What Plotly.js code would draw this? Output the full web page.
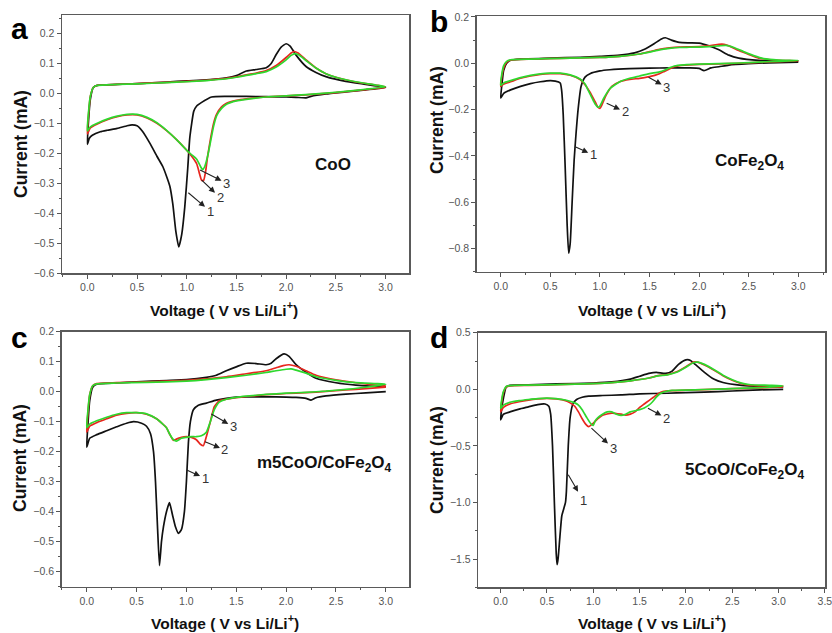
<!DOCTYPE html>
<html>
<head>
<meta charset="utf-8">
<script src="https://cdn.plot.ly/plotly-3.0.1.min.js"></script>
<style>html,body{margin:0;padding:0;background:#fff;}#chart{width:832px;height:633px;}</style>
</head>
<body>
<div id="chart"></div>
<script>
// ---------- Panel a : CoO ----------
const a1_V = [3.0,2.8,2.6,2.4,2.25,2.2,2.1,2.0,1.8,1.6,1.4,1.25,1.15,1.1,1.07,1.05,1.03,1.01,0.98,0.95,0.92,0.89,0.86,0.83,0.8,0.76,0.7,0.63,0.55,0.5,0.45,0.4,0.3,0.2,0.13,0.05,0.02,0.0,
  0.01,0.03,0.06,0.1,0.3,0.5,0.8,1.0,1.2,1.4,1.5,1.6,1.7,1.8,1.85,1.9,1.95,2.0,2.04,2.1,2.2,2.3,2.4,2.6,2.8,3.0];
const a1_I = [0.02,0.012,0.005,-0.002,-0.01,-0.015,-0.013,-0.012,-0.011,-0.01,-0.01,-0.012,-0.03,-0.042,-0.06,-0.1,-0.15,-0.25,-0.38,-0.47,-0.513,-0.46,-0.37,-0.31,-0.28,-0.245,-0.21,-0.167,-0.125,-0.108,-0.105,-0.108,-0.117,-0.123,-0.128,-0.14,-0.15,-0.17,
  -0.1,-0.02,0.02,0.027,0.03,0.033,0.038,0.042,0.045,0.052,0.06,0.075,0.08,0.086,0.1,0.13,0.155,0.166,0.158,0.128,0.09,0.07,0.056,0.04,0.03,0.02];
const a2_V = [3.0,2.8,2.6,2.4,2.2,2.0,1.8,1.6,1.5,1.4,1.35,1.3,1.27,1.24,1.21,1.19,1.17,1.15,1.13,1.1,1.05,1.0,0.9,0.8,0.7,0.6,0.5,0.4,0.3,0.2,0.1,0.03,0.0,
  0.01,0.03,0.06,0.1,0.3,0.5,0.8,1.0,1.2,1.4,1.5,1.6,1.7,1.8,1.9,2.0,2.05,2.08,2.12,2.2,2.3,2.4,2.5,2.7,2.9,3.0];
const a2_I = [0.02,0.013,0.006,0.0,-0.005,-0.008,-0.012,-0.018,-0.023,-0.033,-0.045,-0.07,-0.1,-0.15,-0.21,-0.26,-0.29,-0.29,-0.27,-0.235,-0.21,-0.19,-0.155,-0.125,-0.1,-0.082,-0.072,-0.072,-0.078,-0.088,-0.102,-0.115,-0.135,
  -0.08,-0.01,0.02,0.027,0.03,0.033,0.037,0.04,0.044,0.05,0.055,0.062,0.068,0.076,0.093,0.12,0.135,0.14,0.135,0.112,0.085,0.066,0.054,0.038,0.028,0.022];
const a3_V = [3.0,2.8,2.6,2.4,2.2,2.0,1.8,1.6,1.5,1.4,1.35,1.3,1.27,1.24,1.21,1.18,1.16,1.14,1.1,1.05,1.0,0.9,0.8,0.7,0.6,0.5,0.4,0.3,0.2,0.1,0.03,0.0,
  0.01,0.03,0.06,0.1,0.3,0.5,0.8,1.0,1.2,1.4,1.5,1.6,1.7,1.8,1.9,2.0,2.05,2.09,2.13,2.2,2.3,2.4,2.5,2.7,2.9,3.0];
const a3_I = [0.022,0.014,0.007,0.001,-0.004,-0.008,-0.012,-0.02,-0.025,-0.036,-0.05,-0.075,-0.11,-0.16,-0.21,-0.245,-0.255,-0.245,-0.22,-0.205,-0.19,-0.155,-0.124,-0.098,-0.08,-0.07,-0.07,-0.076,-0.086,-0.1,-0.112,-0.125,
  -0.07,-0.01,0.02,0.027,0.03,0.032,0.036,0.039,0.043,0.049,0.054,0.06,0.066,0.073,0.088,0.112,0.127,0.133,0.128,0.11,0.085,0.066,0.054,0.039,0.028,0.022];

// ---------- Panel b : CoFe2O4 ----------
const b1_V = [3.0,2.7,2.5,2.3,2.2,2.12,2.05,2.0,1.9,1.7,1.5,1.3,1.1,1.0,0.9,0.85,0.81,0.78,0.76,0.74,0.72,0.7,0.685,0.67,0.65,0.63,0.615,0.6,0.55,0.5,0.4,0.3,0.2,0.1,0.03,0.0,
  0.01,0.03,0.06,0.1,0.2,0.5,0.8,1.0,1.2,1.35,1.45,1.55,1.62,1.66,1.72,1.8,1.9,2.0,2.1,2.2,2.3,2.4,2.6,2.8,3.0];
const b1_I = [0.005,0.002,-0.002,-0.008,-0.015,-0.02,-0.032,-0.022,-0.02,-0.02,-0.021,-0.023,-0.028,-0.033,-0.045,-0.06,-0.1,-0.2,-0.3,-0.42,-0.6,-0.78,-0.82,-0.7,-0.45,-0.22,-0.12,-0.085,-0.077,-0.075,-0.08,-0.088,-0.1,-0.115,-0.13,-0.15,
  -0.1,-0.03,0.0,0.013,0.018,0.022,0.026,0.03,0.035,0.045,0.06,0.085,0.105,0.11,0.1,0.09,0.088,0.087,0.075,0.058,0.035,0.022,0.012,0.009,0.008];
const b2_V = [3.0,2.8,2.6,2.4,2.2,2.0,1.85,1.75,1.7,1.65,1.6,1.5,1.4,1.3,1.2,1.12,1.06,1.02,1.0,0.98,0.95,0.9,0.85,0.8,0.7,0.6,0.5,0.4,0.3,0.2,0.1,0.03,0.0,
  0.01,0.03,0.06,0.1,0.3,0.6,1.0,1.2,1.4,1.5,1.6,1.7,1.8,1.9,2.0,2.1,2.2,2.25,2.3,2.4,2.5,2.6,2.8,3.0];
const b2_I = [0.01,0.007,0.004,0.0,-0.003,-0.005,-0.008,-0.015,-0.025,-0.035,-0.045,-0.058,-0.065,-0.07,-0.08,-0.1,-0.14,-0.18,-0.195,-0.19,-0.165,-0.125,-0.093,-0.07,-0.052,-0.045,-0.045,-0.048,-0.055,-0.065,-0.08,-0.09,-0.1,
  -0.06,-0.02,0.005,0.013,0.018,0.021,0.025,0.03,0.04,0.05,0.06,0.066,0.07,0.071,0.072,0.075,0.082,0.082,0.075,0.055,0.038,0.022,0.013,0.01];
const b3_V = [3.0,2.8,2.6,2.4,2.2,2.0,1.85,1.75,1.7,1.65,1.6,1.5,1.4,1.3,1.2,1.1,1.04,1.0,0.98,0.95,0.92,0.88,0.85,0.8,0.7,0.6,0.5,0.4,0.3,0.2,0.1,0.03,0.0,
  0.01,0.03,0.06,0.1,0.3,0.6,1.0,1.2,1.4,1.5,1.6,1.7,1.8,1.9,2.0,2.1,2.2,2.27,2.35,2.45,2.55,2.65,2.8,3.0];
const b3_I = [0.012,0.008,0.005,0.001,-0.002,-0.004,-0.007,-0.012,-0.02,-0.03,-0.037,-0.045,-0.055,-0.065,-0.08,-0.11,-0.15,-0.185,-0.19,-0.175,-0.15,-0.115,-0.09,-0.068,-0.05,-0.043,-0.043,-0.046,-0.052,-0.062,-0.075,-0.085,-0.095,
  -0.05,-0.01,0.008,0.015,0.018,0.021,0.025,0.03,0.04,0.048,0.058,0.064,0.068,0.069,0.07,0.072,0.075,0.077,0.068,0.05,0.033,0.02,0.014,0.012];

// ---------- Panel c : m5CoO/CoFe2O4 ----------
const c1_V = [3.0,2.8,2.6,2.4,2.3,2.25,2.2,2.1,2.0,1.8,1.6,1.5,1.4,1.3,1.2,1.12,1.07,1.04,1.02,1.0,0.98,0.95,0.92,0.89,0.86,0.83,0.8,0.77,0.75,0.73,0.71,0.69,0.67,0.64,0.6,0.55,0.47,0.4,0.3,0.2,0.1,0.03,0.0,
  0.01,0.03,0.06,0.1,0.3,0.5,0.8,1.0,1.2,1.3,1.4,1.5,1.6,1.7,1.8,1.85,1.9,1.98,2.03,2.1,2.2,2.3,2.5,2.7,3.0];
const c1_I = [0.0,-0.004,-0.008,-0.014,-0.02,-0.028,-0.022,-0.019,-0.018,-0.017,-0.017,-0.018,-0.022,-0.028,-0.038,-0.045,-0.06,-0.1,-0.17,-0.3,-0.4,-0.46,-0.472,-0.45,-0.41,-0.37,-0.4,-0.45,-0.5,-0.58,-0.45,-0.3,-0.2,-0.14,-0.115,-0.105,-0.1,-0.105,-0.117,-0.13,-0.143,-0.155,-0.185,
  -0.12,-0.03,0.015,0.025,0.029,0.033,0.037,0.04,0.048,0.055,0.07,0.083,0.095,0.094,0.09,0.095,0.11,0.126,0.118,0.09,0.065,0.045,0.03,0.022,0.016];
const c2_V = [3.0,2.8,2.6,2.4,2.2,2.0,1.8,1.6,1.5,1.4,1.33,1.28,1.24,1.2,1.17,1.14,1.1,1.05,1.0,0.95,0.9,0.87,0.83,0.8,0.7,0.6,0.5,0.4,0.3,0.2,0.1,0.03,0.0,
  0.01,0.03,0.06,0.1,0.3,0.6,1.0,1.2,1.4,1.6,1.8,1.9,1.97,2.03,2.1,2.2,2.3,2.5,2.7,2.9,3.0];
const c2_I = [0.015,0.01,0.006,0.001,-0.003,-0.006,-0.01,-0.016,-0.02,-0.025,-0.03,-0.05,-0.1,-0.15,-0.18,-0.175,-0.16,-0.152,-0.15,-0.152,-0.158,-0.162,-0.14,-0.12,-0.09,-0.075,-0.07,-0.072,-0.078,-0.09,-0.103,-0.115,-0.135,
  -0.08,-0.01,0.02,0.027,0.03,0.033,0.038,0.043,0.05,0.06,0.07,0.08,0.087,0.09,0.085,0.07,0.055,0.04,0.03,0.022,0.02];
const c3_V = [3.0,2.8,2.6,2.4,2.2,2.0,1.8,1.6,1.5,1.4,1.33,1.28,1.24,1.2,1.15,1.1,1.05,1.0,0.95,0.9,0.87,0.83,0.8,0.7,0.6,0.5,0.4,0.3,0.2,0.1,0.03,0.0,
  0.01,0.03,0.06,0.1,0.3,0.6,1.0,1.2,1.4,1.6,1.8,1.9,2.0,2.05,2.1,2.2,2.3,2.5,2.7,2.9,3.0];
const c3_I = [0.025,0.015,0.008,0.002,-0.002,-0.005,-0.009,-0.015,-0.019,-0.025,-0.035,-0.06,-0.1,-0.135,-0.147,-0.15,-0.15,-0.152,-0.155,-0.165,-0.16,-0.14,-0.12,-0.09,-0.074,-0.07,-0.07,-0.075,-0.085,-0.097,-0.108,-0.12,
  -0.07,-0.01,0.02,0.026,0.029,0.031,0.035,0.04,0.047,0.055,0.064,0.07,0.075,0.076,0.072,0.062,0.05,0.038,0.03,0.027,0.025];

// ---------- Panel d : 5CoO/CoFe2O4 ----------
const d1_V = [3.05,2.8,2.5,2.2,2.0,1.8,1.5,1.3,1.1,0.95,0.88,0.82,0.78,0.75,0.73,0.71,0.7,0.68,0.66,0.64,0.62,0.61,0.6,0.58,0.56,0.54,0.52,0.48,0.4,0.3,0.2,0.1,0.03,0.0,
  0.01,0.03,0.06,0.1,0.3,0.6,1.0,1.2,1.4,1.5,1.6,1.68,1.78,1.85,1.92,2.0,2.05,2.1,2.2,2.3,2.4,2.6,2.8,3.05];
const d1_I = [0.0,-0.005,-0.015,-0.025,-0.03,-0.035,-0.04,-0.05,-0.055,-0.06,-0.07,-0.09,-0.13,-0.25,-0.5,-0.9,-1.0,-1.06,-1.12,-1.3,-1.5,-1.55,-1.45,-1.0,-0.5,-0.22,-0.15,-0.13,-0.135,-0.155,-0.175,-0.2,-0.22,-0.27,
  -0.18,-0.08,0.02,0.035,0.04,0.047,0.055,0.065,0.09,0.115,0.14,0.15,0.14,0.16,0.22,0.26,0.255,0.22,0.15,0.09,0.06,0.035,0.025,0.02];
const d2_V = [3.05,2.8,2.5,2.2,2.0,1.85,1.75,1.7,1.65,1.6,1.55,1.5,1.45,1.4,1.35,1.3,1.2,1.1,1.05,1.0,0.95,0.92,0.88,0.84,0.8,0.75,0.7,0.6,0.5,0.4,0.3,0.2,0.1,0.03,0.0,
  0.01,0.03,0.06,0.1,0.3,0.6,1.0,1.2,1.4,1.6,1.7,1.8,1.9,2.0,2.08,2.12,2.2,2.3,2.4,2.5,2.6,2.7,2.9,3.05];
const d2_I = [0.02,0.012,0.005,-0.003,-0.008,-0.012,-0.02,-0.04,-0.07,-0.1,-0.13,-0.16,-0.2,-0.22,-0.228,-0.22,-0.21,-0.23,-0.26,-0.3,-0.33,-0.31,-0.26,-0.2,-0.15,-0.12,-0.1,-0.085,-0.08,-0.085,-0.095,-0.11,-0.13,-0.16,-0.2,
  -0.12,-0.03,0.02,0.03,0.035,0.04,0.05,0.058,0.075,0.1,0.12,0.13,0.155,0.2,0.24,0.24,0.215,0.17,0.12,0.08,0.05,0.035,0.028,0.025];
const d3_V = [3.05,2.8,2.5,2.2,2.0,1.85,1.78,1.72,1.68,1.64,1.6,1.55,1.5,1.45,1.4,1.35,1.3,1.25,1.2,1.15,1.1,1.05,1.02,1.0,0.97,0.93,0.88,0.84,0.8,0.7,0.6,0.5,0.4,0.3,0.2,0.1,0.03,0.0,
  0.01,0.03,0.06,0.1,0.3,0.6,1.0,1.2,1.4,1.6,1.7,1.8,1.9,2.0,2.08,2.13,2.2,2.3,2.4,2.5,2.6,2.7,2.9,3.05];
const d3_I = [0.03,0.015,0.006,-0.002,-0.007,-0.01,-0.02,-0.04,-0.07,-0.11,-0.14,-0.165,-0.18,-0.19,-0.2,-0.22,-0.23,-0.22,-0.2,-0.2,-0.22,-0.25,-0.28,-0.32,-0.3,-0.25,-0.18,-0.14,-0.12,-0.095,-0.082,-0.078,-0.082,-0.09,-0.1,-0.115,-0.14,-0.17,
  -0.1,-0.02,0.025,0.033,0.037,0.042,0.05,0.058,0.075,0.1,0.118,0.128,0.15,0.195,0.235,0.24,0.22,0.175,0.125,0.085,0.055,0.04,0.035,0.03];

// ---------- Styling ----------
const cycleColors = ['#111111', '#e8261e', '#2ed82e'];
const FONT = 'Liberation Sans, Arial, Helvetica, sans-serif';

const panels = [
  {xa:'x',  ya:'y',  cycles:[[a1_V,a1_I],[a2_V,a2_I],[a3_V,a3_I]]},
  {xa:'x2', ya:'y2', cycles:[[b1_V,b1_I],[b2_V,b2_I],[b3_V,b3_I]]},
  {xa:'x3', ya:'y3', cycles:[[c1_V,c1_I],[c2_V,c2_I],[c3_V,c3_I]]},
  {xa:'x4', ya:'y4', cycles:[[d1_V,d1_I],[d2_V,d2_I],[d3_V,d3_I]]}
];

const traces = [];
panels.forEach(p => {
  p.cycles.forEach((c, i) => {
    traces.push({
      x: c[0], y: c[1], type: 'scatter', mode: 'lines',
      line: {color: cycleColors[i], width: 1.7, shape: 'spline', smoothing: 0.5},
      xaxis: p.xa, yaxis: p.ya, showlegend: false, hoverinfo: 'skip',
      name: 'cycle ' + (i + 1)
    });
  });
});

const W = 832, H = 633;
function xdom(l, r) { return [l / W, r / W]; }
function ydom(t, b) { return [1 - b / H, 1 - t / H]; }

function ax(dom, range, anchor, dtick) {
  return {
    domain: dom, range: range, anchor: anchor, tick0: 0, dtick: dtick, tickformat: '.1f',
    ticks: 'outside', ticklen: 4, tickwidth: 1, tickcolor: '#555',
    minor: {dtick: dtick / 2, tick0: 0, ticks: 'outside', ticklen: 2, tickwidth: 1, tickcolor: '#555', showgrid: false},
    showline: true, mirror: true, linecolor: '#5a5a5a', linewidth: 1.5,
    showgrid: false, zeroline: false, ticklabeloverflow: 'allow',
    tickfont: {family: FONT, size: 10.5, color: '#555'}
  };
}

const layout = {
  width: W, height: H,
  margin: {l: 0, r: 0, t: 0, b: 0},
  paper_bgcolor: '#ffffff', plot_bgcolor: '#ffffff',
  showlegend: false,
  xaxis:  ax(xdom(62, 409),     [-0.255, 3.236], 'y',  0.5),
  yaxis:  ax(ydom(15, 273),     [-0.6, 0.262],   'x',  0.1),
  xaxis2: ax(xdom(476.7, 825),  [-0.242, 3.269], 'y2', 0.5),
  yaxis2: ax(ydom(16, 271.7),   [-0.9, 0.204],   'x2', 0.2),
  xaxis3: ax(xdom(61.7, 409.3), [-0.251, 3.236], 'y3', 0.5),
  yaxis3: ax(ydom(331.7, 586.7),[-0.65, 0.2001], 'x3', 0.1),
  xaxis4: ax(xdom(478.3, 825),  [-0.241, 3.501], 'y4', 0.5),
  yaxis4: ax(ydom(332.7, 587.3),[-1.75, 0.5001], 'x4', 0.5),
  annotations: []
};

const ann = layout.annotations;
// axis titles
const xTitle = '<b>Voltage ( V vs Li/Li<sup>+</sup>)</b>';
const yTitle = '<b>Current (mA)</b>';
[[224, 309], [652, 309], [225, 622], [652, 622]].forEach(p => {
  ann.push({xref: 'paper', yref: 'paper', x: p[0] / W, y: 1 - p[1] / H, xanchor: 'center', yanchor: 'middle',
    text: xTitle, showarrow: false, font: {family: FONT, size: 15.5, color: '#111'}});
});
[[21, 144], [437, 120], [20, 458], [437, 460]].forEach(p => {
  ann.push({xref: 'paper', yref: 'paper', x: p[0] / W, y: 1 - p[1] / H, xanchor: 'center', yanchor: 'middle',
    text: yTitle, textangle: -90, showarrow: false, font: {family: FONT, size: 17.5, color: '#111'}});
});
// panel letters
[['a', 19, 28], ['b', 439, 22], ['c', 19, 337], ['d', 439, 337]].forEach(p => {
  ann.push({xref: 'paper', yref: 'paper', x: p[1] / W, y: 1 - p[2] / H, xanchor: 'center', yanchor: 'middle',
    text: '<b>' + p[0] + '</b>', showarrow: false, font: {family: FONT, size: 30, color: '#000'}});
});
// sample labels
[['x', 'y', 2.47, -0.236, 'CoO'],
 ['x2', 'y2', 2.505, -0.428, 'CoFe<sub>2</sub>O<sub>4</sub>'],
 ['x3', 'y3', 2.39, -0.241, 'm5CoO/CoFe<sub>2</sub>O<sub>4</sub>'],
 ['x4', 'y4', 2.633, -0.721, '5CoO/CoFe<sub>2</sub>O<sub>4</sub>']].forEach(p => {
  ann.push({xref: p[0], yref: p[1], x: p[2], y: p[3], xanchor: 'center', yanchor: 'middle',
    text: '<b>' + p[4] + '</b>', showarrow: false, font: {family: FONT, size: 17, color: '#111'}});
});
// cycle number pointers: [xref, yref, curve x, curve y, label x, label y, text]
[['x', 'y', 1.134, -0.256, 1.40, -0.30, '3'],
 ['x', 'y', 1.151, -0.29, 1.335, -0.348, '2'],
 ['x', 'y', 1.016, -0.332, 1.234, -0.393, '1'],
 ['x2', 'y2', 0.75, -0.36, 0.933, -0.396, '1'],
 ['x2', 'y2', 1.068, -0.173, 1.253, -0.209, '2'],
 ['x2', 'y2', 1.49, -0.06, 1.673, -0.104, '3'],
 ['x3', 'y3', 1.25, -0.074, 1.47, -0.117, '3'],
 ['x3', 'y3', 1.187, -0.167, 1.387, -0.194, '2'],
 ['x3', 'y3', 1.003, -0.261, 1.187, -0.289, '1'],
 ['x4', 'y4', 1.59, -0.168, 1.79, -0.256, '2'],
 ['x4', 'y4', 0.98, -0.344, 1.213, -0.52, '3'],
 ['x4', 'y4', 0.73, -0.756, 0.89, -0.98, '1']].forEach(p => {
  ann.push({xref: p[0], yref: p[1], x: p[2], y: p[3], axref: p[0], ayref: p[1], ax: p[4], ay: p[5],
    text: p[6], showarrow: true, arrowside: 'start', startarrowhead: 2, startarrowsize: 1.1,
    arrowwidth: 1.1, arrowcolor: '#222', startstandoff: 0,
    font: {family: FONT, size: 13, color: '#333'}});
});

Plotly.newPlot('chart', traces, layout, {staticPlot: true, displayModeBar: false});
</script>
</body>
</html>
